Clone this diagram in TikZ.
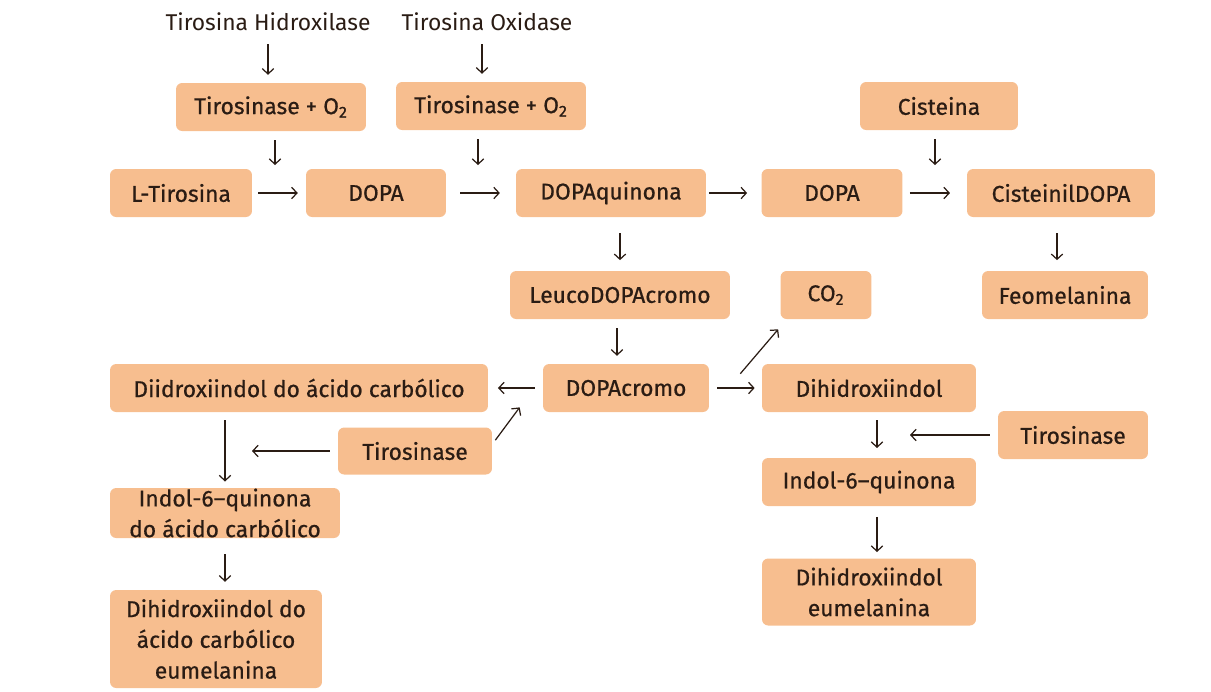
\documentclass[tikz,border=0pt]{standalone}
\usepackage{fontspec}
\setmainfont{Fira Sans}
\newfontfamily\boxfont{Fira Sans}[FakeBold=0.6]
\usepackage{tikz}
\usetikzlibrary{arrows.meta,calc}
\definecolor{peach}{HTML}{F7BE8F}
\definecolor{ink}{HTML}{2A1C14}

\begin{document}
\begin{tikzpicture}[x=0.02cm,y=-0.02cm,
    font=\fontsize{13}{17.5}\selectfont,text=ink,
    box/.style={fill=peach,rounded corners=3.5pt,inner sep=0pt,align=center,minimum height=0.96cm,
      font=\boxfont\fontsize{13}{17.5}\selectfont},
    arr/.style={-{Straight Barb[length=3pt,width=6.5pt]},line width=.7pt,ink}]
  \useasboundingbox (0,0) rectangle (1211,691);
  % enzimas no topo
  \node (hidrox) at (268,22) {Tirosina Hidroxilase};
  \node (oxid) at (487,22) {Tirosina Oxidase};
  \node[box,minimum width=3.8cm] (tirA) at (271,107) {Tirosinase + O\textsubscript{2}};
  \node[box,minimum width=3.8cm] (tirB) at (491,106) {Tirosinase + O\textsubscript{2}};
  \node[box,minimum width=3.16cm] (cist) at (939,106) {Cisteina};
  % linha principal
  \node[box,minimum width=2.84cm] (ltir) at (181,193) {L-Tirosina};
  \node[box,minimum width=2.8cm] (dopaA) at (376,193) {DOPA};
  \node[box,minimum width=3.8cm] (dq) at (611,193) {DOPAquinona};
  \node[box,minimum width=2.82cm] (dopaB) at (832,193) {DOPA};
  \node[box,minimum width=3.76cm] (cdopa) at (1061,193) {CisteinilDOPA};
  \node[box,minimum width=4.4cm] (leuco) at (620,295) {LeucoDOPAcromo};
  \node[box,minimum width=1.82cm] (co2) at (826,295) {CO\textsubscript{2}};
  \node[box,minimum width=3.32cm] (feo) at (1065,295) {Feomelanina};
  \node[box,minimum width=7.56cm] (diid) at (299,388) {Diidroxiindol do ácido carbólico};
  \node[box,minimum width=3.32cm] (dcromo) at (626,388) {DOPAcromo};
  \node[box,minimum width=4.28cm] (dihid) at (869,388) {Dihidroxiindol};
  % ramo esquerdo
  \node[box,minimum width=3.08cm,minimum height=.94cm] (tirC) at (415,451) {Tirosinase};
  \node[box,minimum width=4.6cm,minimum height=1cm] (indc) at (225,513) {Indol-6–quinona\\do ácido carbólico};
  \node[box,minimum width=4.24cm,minimum height=1.96cm] (eumc) at (216,639) {Dihidroxiindol do\\ácido carbólico\\eumelanina};
  % ramo direito
  \node[box,minimum width=3cm] (tirD) at (1073,435) {Tirosinase};
  \node[box,minimum width=4.28cm] (indol) at (869,482) {Indol-6–quinona};
  \node[box,minimum width=4.28cm,minimum height=1.34cm] (eumd) at (869,592) {Dihidroxiindol\\eumelanina};
  \coordinate (ja) at (275,165);
  \coordinate (jb) at (478,165);
  \coordinate (jc) at (935,165);
  \coordinate (jl) at (252,451);
  \coordinate (jr) at (910,435);

  \draw[arr,shorten <=4pt,shorten >=4.5pt] (hidrox) -- (hidrox |- tirA.north);
  \draw[arr,shorten <=4pt,shorten >=4.5pt] (oxid.south -| tirB.north) ++(-9,0) -- ($(tirB.north)+(-9,0)$);
  \foreach \s/\j in {tirA/ja,tirB/jb,cist/jc}
    \draw[arr,shorten <=5pt] (\s.south -| \j) -- (\j);
  \foreach \a/\b/\p/\q in {ltir/dopaA/3.5/4.5,dopaA/dq/8/9,dq/dopaB/1.5/8,dopaB/cdopa/4/9.5,
      dcromo/dihid/4.5/4,dcromo/diid/4.5/5.5}
    \draw[arr,shorten <=\p pt,shorten >=\q pt] (\a) -- (\b);
  \draw[arr,shorten <=9pt,shorten >=6pt] (leuco.north |- dq.south) -- (leuco.north);
  \draw[arr,shorten <=5pt,shorten >=4.5pt] (leuco.south -| dcromo.north) ++(-9,0) -- ($(dcromo.north)+(-9,0)$);
  \draw[arr,shorten <=9pt,shorten >=6pt] ($(cdopa.south)+(-4,0)$) -- ($(feo.north)+(-8,0)$);
  \draw[arr] ($(dcromo.north east)+(31,10)$) -- ($(co2.south west)+(-2,10)$);
  \draw[arr] ($(tirC.north east)+(3,13)$) -- ($(dcromo.south west)+(-23,-5)$);
  \draw[arr,shorten <=4.5pt] (tirC) -- (jl);
  \draw[arr,shorten <=4.5pt] (tirD) -- (jr);
  \draw[arr,shorten <=4.5pt,shorten >=3.5pt] (indc.north |- diid.south) -- (indc.north);
  \draw[arr,shorten <=9pt,shorten >=4.5pt] (indc.south) -- (indc.south |- eumc.north);
  \draw[arr,shorten <=4.5pt,shorten >=5.5pt] ($(dihid.south)+(8,0)$) -- ($(indol.north)+(8,0)$);
  \draw[arr,shorten <=6pt,shorten >=3.5pt] ($(indol.south)+(8,0)$) -- ($(eumd.north)+(8,0)$);
\end{tikzpicture}
\end{document}
